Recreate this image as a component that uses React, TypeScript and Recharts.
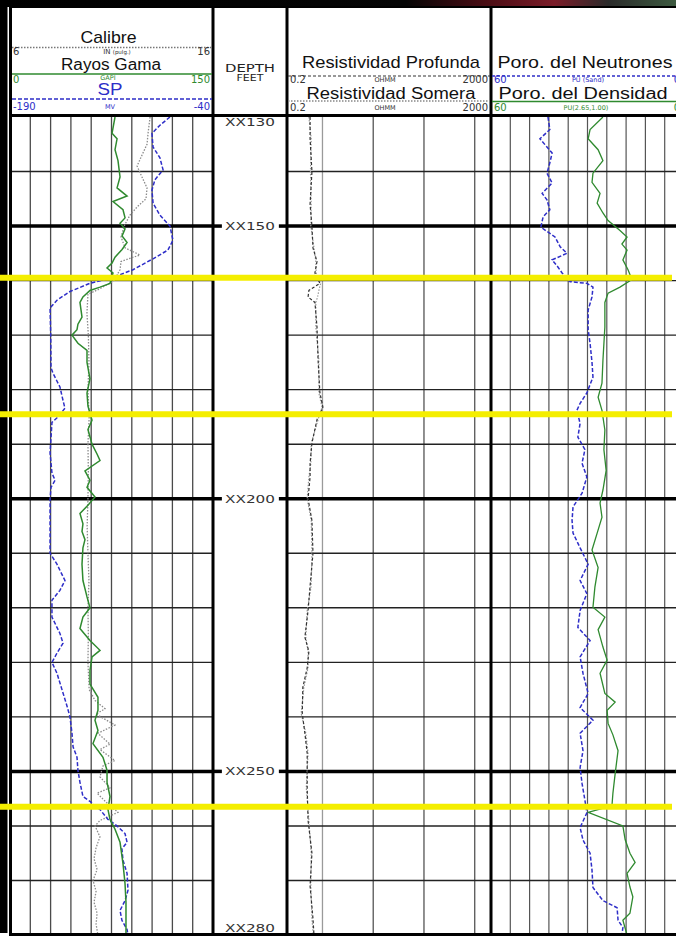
import React from "react";
import { ComposedChart, Line, XAxis, YAxis, ReferenceLine } from "recharts";

// ---------------- data ----------------
const DEPTH_RANGE = [130, 280];
const MINOR_DEPTHS = [140, 160, 170, 180, 190, 210, 220, 230, 240, 260, 270];
const MAJOR_DEPTHS = [150, 200, 250];
const DEPTH_TAG_VALUES = [130, 150, 200, 250, 280];
const DEPTH_TAGS = ["XX130", "XX150", "XX200", "XX250", "XX280"];
const MARKER_DEPTHS = [159.5, 184.5, 256.5];

const GR_SCALE = [0, 150];
const SP_SCALE = [-190, -40];
const CAL_SCALE = [6, 16];
const RES_SCALE = [0.2, 2000];
const PORO_SCALE = [0, 60];

const TRACK1_GRID = [15, 30, 45, 60, 75, 90, 105, 120, 135];
const RES_GRID = [1, 10, 100, 1000];
const PORO_GRID = [54, 48, 42, 36, 30, 24, 18, 12, 6];

const GR_DEPTH = [130, 131.5, 133, 134, 136, 138, 141, 143, 144.5, 145.5, 147, 148.5, 149.5, 150.5, 151.8, 153, 154.3, 155.7, 156.8, 157.7, 158.6, 160.5, 161.2, 161.8, 163, 164, 166.7, 168, 169, 170, 171.5, 172.8, 175, 178, 180.6, 183, 185.6, 187.3, 190, 191.8, 193, 194.9, 196.6, 197.9, 199.7, 201.2, 202.7, 204.6, 206, 207.5, 209, 212, 215, 218, 220, 221.7, 223.8, 226, 227.8, 229, 231.5, 234, 236.4, 238.8, 240.6, 242.5, 244.9, 247.4, 249.8, 252, 254.6, 257, 258.8, 260.6, 263, 266.9, 270.6, 274, 280];
const GR_API = [77.6, 76.5, 75.4, 79.1, 77.6, 79.8, 81.3, 79.1, 86.5, 76.1, 83.5, 85.0, 81.3, 85.0, 82.8, 86.5, 82.8, 77.6, 75.4, 71.7, 76.1, 73.9, 66.5, 59.1, 53.9, 51.7, 53.2, 50.2, 49.5, 45.8, 50.2, 56.9, 56.9, 59.1, 56.9, 57.6, 60.6, 57.6, 60.6, 64.3, 66.5, 55.4, 59.1, 56.9, 62.8, 57.6, 51.7, 53.9, 53.2, 55.4, 53.9, 53.2, 53.9, 56.9, 59.1, 53.9, 51.7, 59.1, 66.5, 60.6, 59.1, 59.1, 65.0, 65.0, 62.8, 65.0, 61.3, 68.7, 71.7, 71.7, 73.9, 72.4, 73.9, 77.6, 81.3, 83.5, 85.0, 85.7, 85.7];

const SP_DEPTH = [130, 131.5, 133, 135.5, 137.5, 139.7, 141.5, 143.4, 145.8, 148, 150, 152.6, 154.4, 156, 158, 159.4, 160.5, 162, 163.6, 165, 170, 176, 177, 179.5, 182, 183.4, 185, 186, 191.6, 195.3, 196.6, 197.9, 200, 210, 212, 215, 216.8, 218.6, 221.7, 224.7, 226.5, 228.3, 230, 232, 235, 238, 240, 243, 245.5, 247.4, 249.8, 252, 254.6, 255.5, 257, 258.8, 260, 261.4, 263, 264.2, 266.3, 268.7, 271.8, 273.7, 275.5, 277.3, 279, 280];
const SP_MV = [-71.8, -79.2, -85.1, -84.3, -79.2, -76.9, -82.9, -85.1, -84.3, -79.2, -71.8, -69.6, -73.3, -84.3, -99.1, -113.9, -130.9, -145.7, -155.3, -160.4, -159.9, -159.7, -158.2, -153.1, -150.8, -149.4, -154.5, -159.0, -160.4, -159.0, -156.7, -159.7, -160.4, -160.4, -155.3, -149.4, -153.1, -159.0, -159.0, -153.1, -150.8, -155.3, -159.0, -155.3, -151.6, -147.9, -145.7, -144.2, -143.4, -140.5, -139.8, -138.3, -136.1, -130.9, -123.5, -117.6, -110.9, -105.0, -103.5, -107.3, -106.5, -103.5, -102.8, -105.0, -108.7, -107.3, -103.5, -102.8];

const CAL_DEPTH = [130, 133, 135, 137, 139, 141, 143, 145, 146.5, 148, 150, 152, 154, 155.3, 156.5, 158, 160, 161.5, 162.5, 166, 170, 175, 180, 185, 190, 195, 200, 205, 210, 215, 220, 225, 230, 235, 237, 238.5, 239.5, 241.5, 243, 245, 246, 248, 249, 251, 253, 254, 256, 257.5, 259, 260, 262, 264, 266, 268, 270, 272, 274, 276, 278, 280];
const CAL_IN = [12.9, 12.8, 12.75, 12.5, 12.26, 12.5, 12.75, 12.7, 12.26, 11.91, 11.62, 11.47, 11.67, 12.4, 11.47, 11.42, 11.12, 10.43, 9.84, 9.79, 9.86, 9.89, 9.84, 9.9, 9.84, 9.86, 9.84, 9.8, 9.84, 9.89, 9.84, 9.86, 9.84, 9.9, 10.19, 10.68, 10.24, 11.17, 10.33, 10.93, 10.43, 11.17, 10.58, 10.43, 10.93, 10.29, 10.83, 11.32, 10.43, 10.19, 10.43, 10.24, 10.14, 10.29, 10.09, 10.24, 10.14, 10.29, 10.24, 10.33];

const RES_DEPTH = [130, 134, 140, 146, 150, 154, 156.5, 158.6, 160.5, 161.8, 163, 164, 168.5, 174.6, 180.6, 183.2, 185.5, 189.8, 193.5, 196, 200, 204, 210, 216, 220.5, 225.4, 228, 231, 234.6, 239.4, 243, 246.7, 253, 259, 265, 271, 277, 280];
const RES_DEEP = [0.57, 0.57, 0.62, 0.57, 0.62, 0.65, 0.78, 0.71, 0.89, 0.54, 0.52, 0.71, 0.78, 0.82, 0.89, 1.02, 0.78, 0.62, 0.57, 0.57, 0.52, 0.62, 0.65, 0.57, 0.52, 0.45, 0.54, 0.50, 0.41, 0.40, 0.45, 0.50, 0.50, 0.52, 0.62, 0.57, 0.65, 0.68];
const RES_SHALLOW = [0.54, 0.60, 0.58, 0.60, 0.59, 0.68, 0.74, 0.75, 0.92, 0.85, 0.80, 0.74, 0.74, 0.85, 0.85, 0.98, 0.82, 0.60, 0.59, 0.54, 0.50, 0.60, 0.62, 0.60, 0.50, 0.47, 0.52, 0.52, 0.43, 0.38, 0.47, 0.52, 0.48, 0.54, 0.60, 0.59, 0.62, 0.66];

const NPHI_DEPTH = [130, 132.3, 134, 135.5, 136.6, 138.4, 140.3, 142.1, 144, 145.2, 147, 148.3, 150.2, 152, 153.8, 155, 156.2, 157.5, 158.6, 160.2, 160.5, 161.2, 163, 165.4, 169, 171.5, 175, 177.7, 180.6, 182.5, 183.8, 186.2, 188.7, 191, 193.5, 196, 199, 201.5, 204, 206.3, 209, 212, 215, 217.4, 220.5, 223.6, 226, 229, 232, 235.7, 238.3, 240.6, 243, 246.2, 249.3, 252.2, 255.3, 257.6, 260.3, 262.6, 265, 268.1, 271.3, 273.7, 275, 277.3, 278.6, 280];
const NPHI_PU = [42.3, 41.7, 44.8, 42.6, 41.0, 41.7, 42.6, 41.0, 44.1, 42.6, 41.7, 43.8, 44.5, 40.1, 38.5, 36.4, 41.0, 39.2, 37.9, 35.4, 30.2, 28.3, 28.6, 29.8, 29.8, 29.2, 28.6, 28.3, 30.2, 32.3, 33.3, 32.3, 33.0, 30.8, 31.7, 30.2, 31.7, 34.5, 34.8, 34.5, 32.3, 29.8, 32.3, 30.2, 32.3, 33.0, 29.2, 32.3, 31.4, 29.8, 32.3, 28.3, 32.3, 31.4, 32.3, 31.7, 30.8, 30.2, 32.3, 31.4, 29.2, 28.6, 28.3, 25.2, 20.8, 20.5, 19.0, 19.3];

const DPHI_DEPTH = [130, 132.3, 134, 136, 138, 140.3, 142, 144, 145.8, 147.6, 149, 150.8, 152, 153.3, 154.4, 156.2, 158, 159.8, 161.2, 162.3, 164, 168.5, 174.6, 178.8, 181.4, 183.8, 187.4, 191, 194.8, 198.4, 200.8, 203.4, 206.3, 209.4, 212.6, 216.2, 219.9, 221.7, 224, 227.2, 229.6, 232, 235.7, 237.3, 238.8, 241.2, 243.3, 246.2, 250.4, 254, 256.3, 257.5, 260, 262.5, 265, 266.7, 268.7, 271.2, 273, 276, 277.3, 280];
const DPHI_PU = [25.2, 29.2, 29.8, 26.7, 25.2, 28.3, 28.6, 26.1, 27.0, 25.2, 23.6, 19.9, 17.7, 19.3, 17.7, 19.0, 17.4, 16.2, 19.9, 23.6, 24.6, 24.6, 25.2, 25.5, 26.7, 25.5, 24.6, 24.9, 24.2, 25.2, 26.1, 25.5, 27.0, 28.6, 26.7, 27.7, 28.3, 24.6, 26.7, 25.2, 23.9, 26.1, 24.6, 21.4, 23.9, 23.6, 22.1, 20.5, 21.4, 22.1, 22.4, 29.8, 19.0, 18.3, 16.8, 15.2, 17.7, 16.8, 15.9, 16.8, 19.0, 17.7];

const zip = (ds: number[], vs: number[]) => ds.map((depth, i) => ({ depth, v: vs[i] }));
const grData = zip(GR_DEPTH, GR_API);
const spData = zip(SP_DEPTH, SP_MV);
const calData = zip(CAL_DEPTH, CAL_IN);
const deepData = zip(RES_DEPTH, RES_DEEP);
const shallowData = zip(RES_DEPTH, RES_SHALLOW);
const nphiData = zip(NPHI_DEPTH, NPHI_PU);
const dphiData = zip(DPHI_DEPTH, DPHI_PU);
const tagData = DEPTH_TAG_VALUES.map((depth) => ({ depth }));
const markerData = MARKER_DEPTHS.map((depth) => ({ depth }));

// ---------------- layout / style ----------------
const W = 676;
const H = 938;
const PLOT_TOP = 117;
const PLOT_H = 818;
const M = { top: 0, right: 0, bottom: 0, left: 0 };
const GREEN = "#2f8a2f";
const BLUE = "#2e2ec8";
const SANS = "'Liberation Sans', Arial, sans-serif";
const SMALL = "'DejaVu Sans', sans-serif";

function DepthTag(props: any) {
  const { viewBox, text, place } = props;
  if (!viewBox) return null;
  const cx = viewBox.x + viewBox.width / 2;
  const y = place === "top" ? viewBox.y + 9 : place === "bottom" ? viewBox.y - 3 : viewBox.y + 4;
  return (
    <text x={cx} y={y} textAnchor="middle" fontSize={11} fontFamily={SMALL} fill="#333" textLength={50} lengthAdjust="spacingAndGlyphs">
      {text}
    </text>
  );
}

const hGrid = (xId: string) => [
  ...MINOR_DEPTHS.map((d) => (
    <ReferenceLine key={"mn" + d} xAxisId={xId} yAxisId="d" y={d} stroke="#222" strokeWidth={1.4} />
  )),
  ...MAJOR_DEPTHS.map((d) => (
    <ReferenceLine key={"mj" + d} xAxisId={xId} yAxisId="d" y={d} stroke="#000" strokeWidth={3.5} />
  )),
];

export default function App() {
  return (
    <div style={{ position: "relative", width: W, height: H, overflow: "hidden", background: "#fff" }}>
      <style>{"html,body{margin:0;padding:0;overflow:hidden;background:#fff}"}</style>

      {/* Track 1: caliper, gamma ray, SP */}
      <div style={{ position: "absolute", left: 10, top: PLOT_TOP }}>
        <ComposedChart layout="vertical" width={203} height={PLOT_H} margin={M}>
          <XAxis xAxisId="gr" type="number" domain={GR_SCALE} hide allowDataOverflow />
          <XAxis xAxisId="sp" type="number" domain={SP_SCALE} hide allowDataOverflow />
          <XAxis xAxisId="cal" type="number" domain={CAL_SCALE} hide allowDataOverflow />
          <YAxis yAxisId="d" type="number" dataKey="depth" domain={DEPTH_RANGE} hide allowDataOverflow />
          {TRACK1_GRID.map((v) => (
            <ReferenceLine key={"v" + v} xAxisId="gr" yAxisId="d" x={v} stroke="#4a4a4a" strokeWidth={1.3} />
          ))}
          {hGrid("gr")}
          <Line xAxisId="cal" yAxisId="d" data={calData} dataKey="v" type="linear" dot={false} stroke="#8c8c8c" strokeWidth={1.3} strokeDasharray="1.5 1.5" isAnimationActive={false} />
          <Line xAxisId="sp" yAxisId="d" data={spData} dataKey="v" type="linear" dot={false} stroke={BLUE} strokeWidth={1.5} strokeDasharray="4 2" isAnimationActive={false} />
          <Line xAxisId="gr" yAxisId="d" data={grData} dataKey="v" type="linear" dot={false} stroke={GREEN} strokeWidth={1.5} isAnimationActive={false} />
        </ComposedChart>
      </div>

      {/* Depth track */}
      <div style={{ position: "absolute", left: 213, top: PLOT_TOP }}>
        <ComposedChart layout="vertical" width={74} height={PLOT_H} margin={M} data={tagData}>
          <XAxis xAxisId="x" type="number" domain={[0, 1]} hide allowDataOverflow />
          <YAxis yAxisId="d" type="number" dataKey="depth" domain={DEPTH_RANGE} hide allowDataOverflow />
          {MAJOR_DEPTHS.map((d) => (
            <ReferenceLine key={"l" + d} xAxisId="x" yAxisId="d" segment={[{ x: 0, y: d }, { x: 0.12, y: d }]} stroke="#000" strokeWidth={3.5} />
          ))}
          {MAJOR_DEPTHS.map((d) => (
            <ReferenceLine key={"r" + d} xAxisId="x" yAxisId="d" segment={[{ x: 0.89, y: d }, { x: 1, y: d }]} stroke="#000" strokeWidth={3.5} />
          ))}
          {DEPTH_TAG_VALUES.map((d, i) => (
            <ReferenceLine
              key={"t" + d}
              xAxisId="x"
              yAxisId="d"
              y={d}
              stroke="none"
              label={<DepthTag text={DEPTH_TAGS[i]} place={i === 0 ? "top" : i === DEPTH_TAGS.length - 1 ? "bottom" : "mid"} />}
            />
          ))}
        </ComposedChart>
      </div>

      {/* Track 2: resistivity */}
      <div style={{ position: "absolute", left: 287, top: PLOT_TOP }}>
        <ComposedChart layout="vertical" width={203} height={PLOT_H} margin={M}>
          <XAxis xAxisId="res" type="number" scale="log" domain={RES_SCALE} hide allowDataOverflow />
          <YAxis yAxisId="d" type="number" dataKey="depth" domain={DEPTH_RANGE} hide allowDataOverflow />
          {RES_GRID.map((v, i) => (
            <ReferenceLine key={"v" + v} xAxisId="res" yAxisId="d" x={v} stroke={i === 0 ? "#9a9a9a" : "#555"} strokeWidth={1.3} />
          ))}
          {hGrid("res")}
          <Line xAxisId="res" yAxisId="d" data={shallowData} dataKey="v" type="linear" dot={false} stroke="#9a9a9a" strokeWidth={1.2} strokeDasharray="1.5 1.5" isAnimationActive={false} />
          <Line xAxisId="res" yAxisId="d" data={deepData} dataKey="v" type="linear" dot={false} stroke="#333" strokeWidth={1.2} strokeDasharray="3 2" isAnimationActive={false} />
        </ComposedChart>
      </div>

      {/* Track 3: porosity */}
      <div style={{ position: "absolute", left: 491, top: PLOT_TOP }}>
        <ComposedChart layout="vertical" width={193} height={PLOT_H} margin={M}>
          <XAxis xAxisId="phi" type="number" domain={PORO_SCALE} reversed hide allowDataOverflow />
          <YAxis yAxisId="d" type="number" dataKey="depth" domain={DEPTH_RANGE} hide allowDataOverflow />
          {PORO_GRID.map((v) => (
            <ReferenceLine key={"v" + v} xAxisId="phi" yAxisId="d" x={v} stroke="#555" strokeWidth={1.2} />
          ))}
          {hGrid("phi")}
          <Line xAxisId="phi" yAxisId="d" data={dphiData} dataKey="v" type="linear" dot={false} stroke={GREEN} strokeWidth={1.3} isAnimationActive={false} />
          <Line xAxisId="phi" yAxisId="d" data={nphiData} dataKey="v" type="linear" dot={false} stroke={BLUE} strokeWidth={1.5} strokeDasharray="4 2" isAnimationActive={false} />
        </ComposedChart>
      </div>

      {/* Frame and header */}
      <svg width={W} height={H} style={{ position: "absolute", left: 0, top: 0, pointerEvents: "none" }}>
        <defs>
          <linearGradient id="band" x1="0" y1="0" x2="1" y2="0">
            <stop offset="0" stopColor="#000" />
            <stop offset="0.6" stopColor="#050505" />
            <stop offset="0.72" stopColor="#4a0d14" />
            <stop offset="0.82" stopColor="#7a1c28" />
            <stop offset="0.9" stopColor="#2a2a2a" />
            <stop offset="1" stopColor="#3d5a40" />
          </linearGradient>
        </defs>
        <rect x={0} y={0} width={W} height={7} fill="url(#band)" />
        <rect x={0} y={0} width={7.5} height={933} fill="#000" />
        {/* borders */}
        <line x1={10.5} y1={6} x2={10.5} y2={936} stroke="#000" strokeWidth={3} />
        <line x1={213} y1={6} x2={213} y2={936} stroke="#000" strokeWidth={3} />
        <line x1={287} y1={6} x2={287} y2={936} stroke="#000" strokeWidth={3} />
        <line x1={491} y1={6} x2={491} y2={936} stroke="#000" strokeWidth={3} />
        <line x1={9} y1={7} x2={W} y2={7} stroke="#000" strokeWidth={2} />
        <line x1={9} y1={115.5} x2={W} y2={115.5} stroke="#000" strokeWidth={3} />
        <line x1={9} y1={934.5} x2={W} y2={934.5} stroke="#000" strokeWidth={3} />

        {/* Track 1 header */}
        <text x={108.5} y={43} textAnchor="middle" fontSize={17} fontFamily={SANS} fill="#111" textLength={56} lengthAdjust="spacingAndGlyphs">Calibre</text>
        <line x1={12} y1={47.5} x2={212} y2={47.5} stroke="#777" strokeWidth={1.3} strokeDasharray="1.5 1.5" />
        <text x={13} y={55} fontSize={10} fontFamily={SMALL} fill="#333">6</text>
        <text x={210} y={55} textAnchor="end" fontSize={10} fontFamily={SMALL} fill="#333">16</text>
        <text x={117} y={54} textAnchor="middle" fontFamily={SMALL} fill="#333">
          <tspan fontSize={7}>IN </tspan>
          <tspan fontSize={5.5}>(pulg.)</tspan>
        </text>
        <text x={111} y={70} textAnchor="middle" fontSize={16} fontFamily={SANS} fill="#111" textLength={100} lengthAdjust="spacingAndGlyphs">Rayos Gama</text>
        <line x1={12} y1={74} x2={212} y2={74} stroke={GREEN} strokeWidth={1.5} />
        <text x={13} y={83} fontSize={10} fontFamily={SMALL} fill={GREEN}>0</text>
        <text x={108} y={80} textAnchor="middle" fontSize={6.5} fontFamily={SMALL} fill={GREEN}>GAPI</text>
        <text x={210} y={83} textAnchor="end" fontSize={10} fontFamily={SMALL} fill={GREEN}>150</text>
        <text x={110} y={95} textAnchor="middle" fontSize={16} fontFamily={SANS} fill={BLUE} textLength={25} lengthAdjust="spacingAndGlyphs">SP</text>
        <line x1={12} y1={99} x2={212} y2={99} stroke={BLUE} strokeWidth={1.5} strokeDasharray="4 2" />
        <text x={13} y={109.5} fontSize={10} fontFamily={SMALL} fill={BLUE}>-190</text>
        <text x={110} y={108.5} textAnchor="middle" fontSize={6.5} fontFamily={SMALL} fill={BLUE}>MV</text>
        <text x={210} y={109.5} textAnchor="end" fontSize={10} fontFamily={SMALL} fill={BLUE}>-40</text>

        {/* Depth header */}
        <text x={250} y={72} textAnchor="middle" fontSize={11} fontFamily={SMALL} fill="#222" textLength={50} lengthAdjust="spacingAndGlyphs">DEPTH</text>
        <text x={250} y={81} textAnchor="middle" fontSize={8} fontFamily={SMALL} fill="#222" textLength={27} lengthAdjust="spacingAndGlyphs">FEET</text>

        {/* Track 2 header */}
        <text x={391} y={68} textAnchor="middle" fontSize={17} fontFamily={SANS} fill="#111" textLength={178} lengthAdjust="spacingAndGlyphs">Resistividad Profunda</text>
        <line x1={288} y1={76} x2={490} y2={76} stroke="#333" strokeWidth={1.2} strokeDasharray="3 2" />
        <text x={290} y={82.5} fontSize={10} fontFamily={SMALL} fill="#333">0.2</text>
        <text x={385} y={81.5} textAnchor="middle" fontSize={6.5} fontFamily={SMALL} fill="#333">OHMM</text>
        <text x={488} y={82.5} textAnchor="end" fontSize={10} fontFamily={SMALL} fill="#333">2000</text>
        <text x={391} y={98.5} textAnchor="middle" fontSize={16} fontFamily={SANS} fill="#111" textLength={169} lengthAdjust="spacingAndGlyphs">Resistividad Somera</text>
        <line x1={288} y1={101} x2={490} y2={101} stroke="#888" strokeWidth={1.3} strokeDasharray="1.5 1.5" />
        <text x={290} y={110.5} fontSize={10} fontFamily={SMALL} fill="#333">0.2</text>
        <text x={385} y={109.5} textAnchor="middle" fontSize={6.5} fontFamily={SMALL} fill="#333">OHMM</text>
        <text x={488} y={110.5} textAnchor="end" fontSize={10} fontFamily={SMALL} fill="#333">2000</text>

        {/* Track 3 header */}
        <text x={585} y={68} textAnchor="middle" fontSize={17} fontFamily={SANS} fill="#111" textLength={175} lengthAdjust="spacingAndGlyphs">Poro. del Neutrones</text>
        <line x1={492} y1={76} x2={W} y2={76} stroke={BLUE} strokeWidth={1.3} strokeDasharray="3 2" />
        <text x={494} y={82.5} fontSize={10} fontFamily={SMALL} fill={BLUE}>60</text>
        <text x={588} y={81.5} textAnchor="middle" fontSize={6.5} fontFamily={SMALL} fill={BLUE}>PU (Sand)</text>
        <text x={680} y={82.5} textAnchor="end" fontSize={10} fontFamily={SMALL} fill={BLUE}>0</text>
        <text x={583} y={98.5} textAnchor="middle" fontSize={16} fontFamily={SANS} fill="#111" textLength={169} lengthAdjust="spacingAndGlyphs">Poro. del Densidad</text>
        <line x1={492} y1={101.5} x2={W} y2={101.5} stroke={GREEN} strokeWidth={1.5} />
        <text x={494} y={110.5} fontSize={10} fontFamily={SMALL} fill={GREEN}>60</text>
        <text x={586} y={109.5} textAnchor="middle" fontSize={6.5} fontFamily={SMALL} fill={GREEN}>PU(2.65,1.00)</text>
        <text x={680} y={110.5} textAnchor="end" fontSize={10} fontFamily={SMALL} fill={GREEN}>0</text>
      </svg>

      {/* Yellow zone markers */}
      <div style={{ position: "absolute", left: 0, top: PLOT_TOP, pointerEvents: "none" }}>
        <ComposedChart layout="vertical" width={W} height={PLOT_H} margin={{ top: 0, right: 4, bottom: 0, left: 0 }} data={markerData}>
          <XAxis xAxisId="x" type="number" domain={[0, 1]} hide allowDataOverflow />
          <YAxis yAxisId="d" type="number" dataKey="depth" domain={DEPTH_RANGE} hide allowDataOverflow />
          {MARKER_DEPTHS.map((d) => (
            <ReferenceLine key={"y" + d} xAxisId="x" yAxisId="d" y={d} stroke="#f4ee00" strokeWidth={6} />
          ))}
        </ComposedChart>
      </div>
    </div>
  );
}
